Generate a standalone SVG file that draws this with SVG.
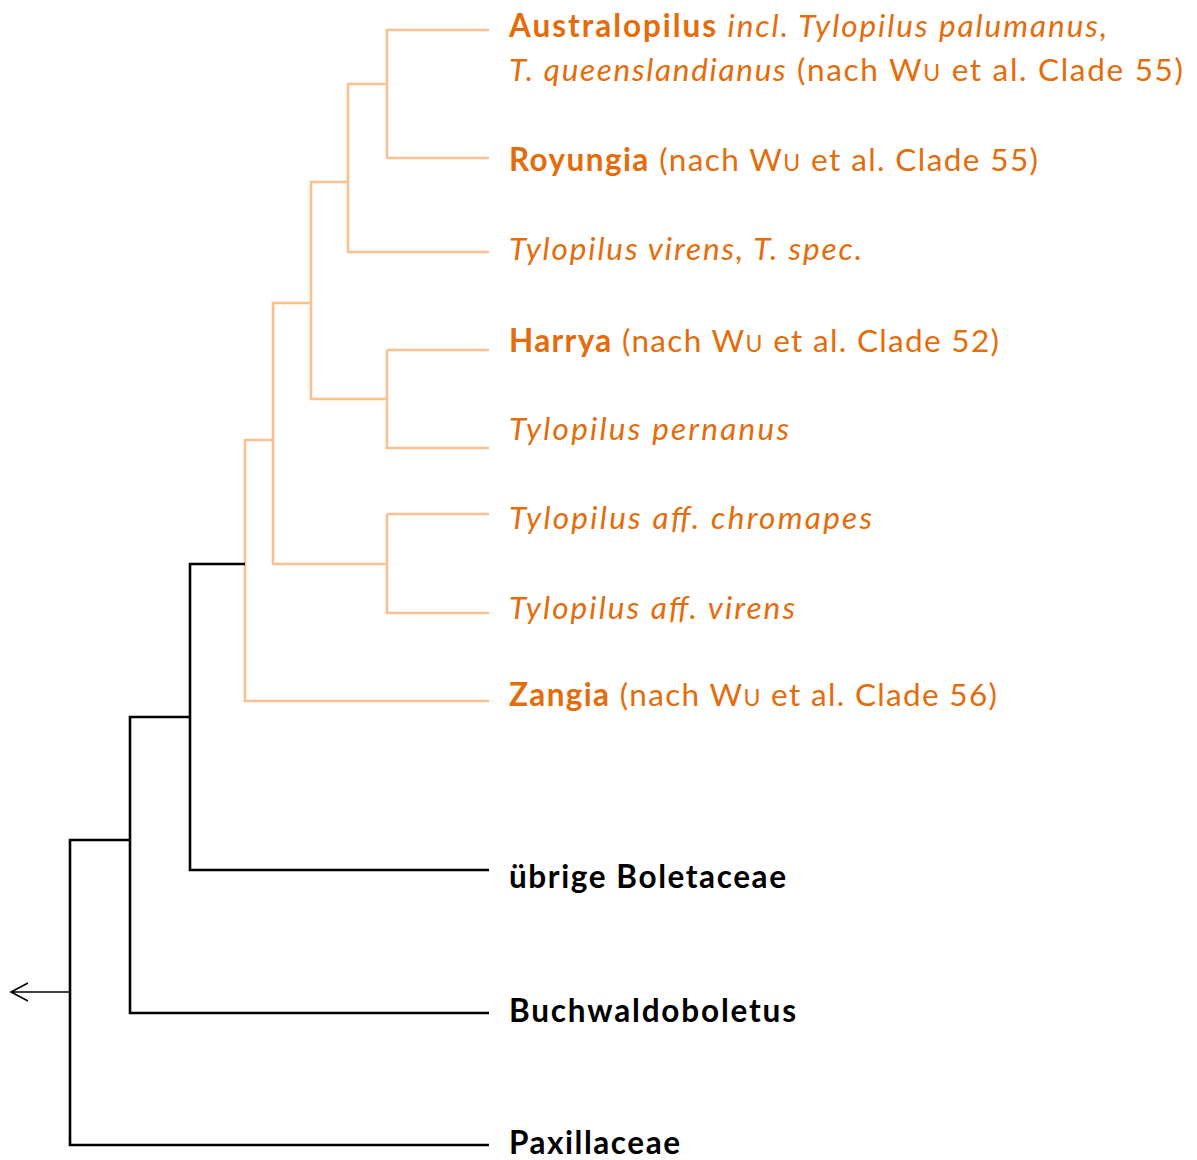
<svg xmlns="http://www.w3.org/2000/svg" width="1197" height="1160" viewBox="0 0 1197 1160">
<style>
.o{fill:none;stroke:#FAC090;stroke-width:2.6}
.k{fill:none;stroke:#000;stroke-width:2.6}
.a{fill:none;stroke:#000;stroke-width:1.6}
text{font-family:Lato,"Open Sans","Liberation Sans",sans-serif;font-size:31.5px}
.t{fill:#E46C0A}
.b{fill:#000;font-weight:bold}
.bo{font-weight:bold}
.i{font-style:italic}
.sc{font-size:23px}
</style>
<rect width="1197" height="1160" fill="#fff"/>
<g id="connectors">
<path class="o" d="M489,30H387V158H489M387,84H348V252H489M348,182H311V399H387M387,350V448H489M387,350H489M311,303H273V564H387M387,514V613H489M387,514H489M273,440H245V701H489"/>
<path class="k" d="M245,564H190V870H489M190,717H130V1013H489M130,840H70V1145H489"/>
<path class="a" d="M70,992H11M28,983L11,992L28,1001"/>
</g>
<g id="n-australopilus"><text class="t" x="509" y="37" textLength="598" lengthAdjust="spacing"><tspan class="bo">Australopilus</tspan><tspan class="i"> incl. Tylopilus palumanus,</tspan></text>
<text class="t" x="509" y="81" textLength="674" lengthAdjust="spacing"><tspan class="i">T. queenslandianus</tspan> (nach W<tspan class="sc">U</tspan> et al. Clade 55)</text></g>
<g id="n-royungia"><text class="t" x="509" y="171" textLength="529" lengthAdjust="spacing"><tspan class="bo">Royungia</tspan> (nach W<tspan class="sc">U</tspan> et al. Clade 55)</text></g>
<g id="n-tvirens"><text class="t i" x="509" y="260" textLength="353" lengthAdjust="spacing">Tylopilus virens, T. spec.</text></g>
<g id="n-harrya"><text class="t" x="509" y="352" textLength="490" lengthAdjust="spacing"><tspan class="bo">Harrya</tspan> (nach W<tspan class="sc">U</tspan> et al. Clade 52)</text></g>
<g id="n-pernanus"><text class="t i" x="509" y="440" textLength="280" lengthAdjust="spacing">Tylopilus pernanus</text></g>
<g id="n-chromapes"><text class="t i" x="509" y="529" textLength="363" lengthAdjust="spacing">Tylopilus aff. chromapes</text></g>
<g id="n-affvirens"><text class="t i" x="509" y="619" textLength="286" lengthAdjust="spacing">Tylopilus aff. virens</text></g>
<g id="n-zangia"><text class="t" x="509" y="706" textLength="488" lengthAdjust="spacing"><tspan class="bo">Zangia</tspan> (nach W<tspan class="sc">U</tspan> et al. Clade 56)</text></g>
<g id="n-boletaceae"><text class="b" x="509" y="888" textLength="277" lengthAdjust="spacing">übrige Boletaceae</text></g>
<g id="n-buchwaldoboletus"><text class="b" x="509" y="1022" textLength="287" lengthAdjust="spacing">Buchwaldoboletus</text></g>
<g id="n-paxillaceae"><text class="b" x="509" y="1154" textLength="171" lengthAdjust="spacing">Paxillaceae</text></g>
</svg>
